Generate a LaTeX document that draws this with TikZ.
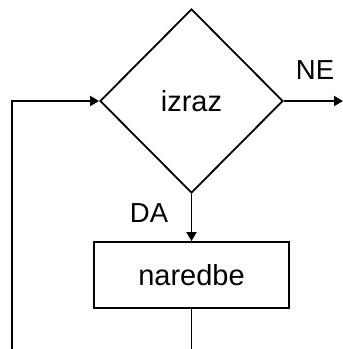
\documentclass[tikz,border=0pt]{standalone}
\usepackage{fontspec}
\setmainfont{Liberation Sans}
\usetikzlibrary{shapes.geometric,arrows.meta}
\begin{document}
\begin{tikzpicture}[x=1pt,y=1pt,
  line width=1.8pt,
  lbl/.style={font=\fontsize{27.5}{32}\selectfont, inner sep=0pt},
  cond/.style={draw, diamond, aspect=1, inner sep=0pt, minimum width=183pt, minimum height=184pt, font=\fontsize{29}{32}\selectfont},
  stepbox/.style={draw, rectangle, inner sep=0pt, minimum width=195pt, minimum height=66pt, font=\fontsize{29}{32}\selectfont},
  arr/.style={-{Triangle[length=9pt,width=10pt]}}]
\useasboundingbox (0,0) rectangle (343,349);
\node[cond] (d) at (191.5,248) {izraz};
\node[stepbox] (r) at (191.5,74) {naredbe};
\coordinate (s) at (12,0);
\coordinate (e) at (343,248);
\coordinate (f) at (191.5,0);
\node[lbl] (ne) at (315,279) {NE};
\node[lbl] (da) at (149,136) {DA};
\draw[arr] (s) |- (d.west);
\draw[arr] (d.east) -- (e);
\draw[arr] (d.south) -- (r.north);
\draw (r.south) -- (f);
\end{tikzpicture}
\end{document}
